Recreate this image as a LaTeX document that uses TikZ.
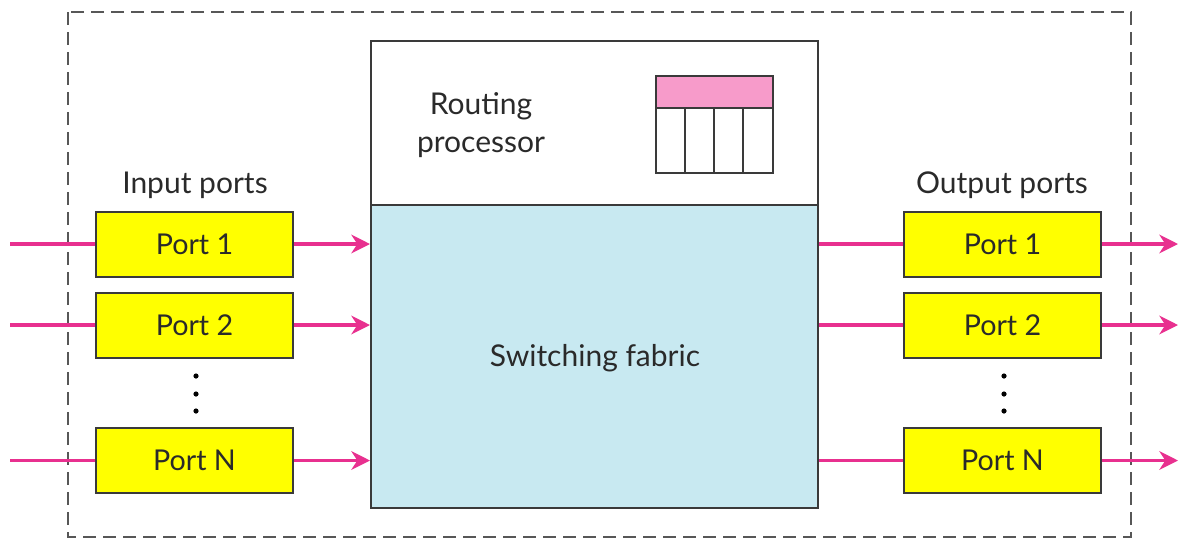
\documentclass[tikz,border=0pt]{standalone}
\usepackage{fontspec}
\setmainfont{Lato}
\usetikzlibrary{arrows.meta}
\definecolor{flowc}{HTML}{E8308F}
\definecolor{portc}{HTML}{FFFF00}
\definecolor{fabc}{HTML}{C8E9F1}
\definecolor{headc}{HTML}{F79BCA}
\definecolor{edgec}{HTML}{3A3A3A}
\definecolor{txtc}{HTML}{2A2A2A}
\tikzset{
  portbox/.style={draw=edgec, line width=1.5pt, fill=portc, minimum width=147.75pt, minimum height=48.75pt, inner sep=0pt, font=\fontsize{21.5}{24}\selectfont, text=txtc},
  bigbox/.style={draw=edgec, line width=1.5pt, minimum width=335.25pt, inner sep=0pt},
  flow/.style={draw=flowc, line width=2.4pt},
  flowarr/.style={flow, -{Stealth[length=14pt, width=14pt, inset=4.5pt]}},
  lbl/.style={font=\fontsize{22.5}{26}\selectfont, text=txtc, inner sep=0pt},
}
\begin{document}
\begin{tikzpicture}[x=0.75pt, y=-0.75pt]
\useasboundingbox (0,0) rectangle (1179,540);
% outer dashed frame
\draw[edgec!85, line width=1.5pt, dash pattern=on 10pt off 5pt] (68,12) rectangle (1131,537);
% routing processor and switching fabric
\node[bigbox, fill=white, minimum height=123pt] (rp) at (594.5,123) {};
\node[bigbox, fill=fabc, minimum height=227.25pt] (sf) at (594.5,356.5) {};
\node[lbl, align=center, font=\fontsize{22.5}{29}\selectfont] (rpt) at (481,125) {Routing\\processor};
\node[lbl] (sft) at (595,358) {Switching fabric};
% routing table
\draw[edgec, line width=1.2pt, fill=headc] (656,76) rectangle (773,108);
\draw[edgec, line width=1.2pt, fill=white] (656,108) rectangle (773,173);
\foreach \cx in {685,714,743} \draw[edgec, line width=1.5pt] (\cx,108) -- (\cx,173);
% port labels
\node[lbl] (inl) at (195,185) {Input ports};
\node[lbl] (outl) at (1002,185) {Output ports};
% ports
\node[portbox] (in1) at (194.5,244) {Port 1};
\node[portbox] (in2) at (194.5,325) {Port 2};
\node[portbox] (inN) at (194.5,460.5) {Port N};
\node[portbox] (out1) at (1002.5,244) {Port 1};
\node[portbox] (out2) at (1002.5,325) {Port 2};
\node[portbox] (outN) at (1002.5,460.5) {Port N};
% dots
\foreach \yy in {376,394,411} {
  \fill[black] (196,\yy) circle (2.6);
  \fill[black] (1004,\yy) circle (2.6);
}
% free ends
\coordinate (s1) at (10,244);
\coordinate (s2) at (10,325);
\coordinate (sN) at (10,460.5);
\coordinate (e1) at (1178,244);
\coordinate (e2) at (1178,325);
\coordinate (eN) at (1178,460.5);
% connectors
\foreach \p in {1,2,N} {
  \draw[flow] (s\p) -- (in\p.west);
  \draw[flowarr] (in\p.east) -- (in\p -| sf.west);
  \draw[flow] (out\p -| sf.east) -- (out\p.west);
  \draw[flowarr] (out\p.east) -- (e\p);
}
\end{tikzpicture}
\end{document}
